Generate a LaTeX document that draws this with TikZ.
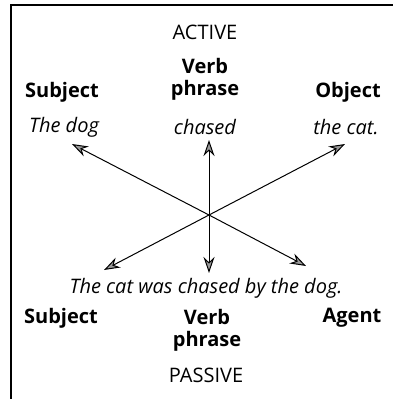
\documentclass[tikz,border=0pt]{standalone}
\usepackage{fontspec}
\setmainfont{Open Sans}
\usepackage{tikz}
\usetikzlibrary{arrows.meta, positioning}

\begin{document}
\begin{tikzpicture}[
    x=1pt, y=-1pt,
    every node/.style={font=\fontsize{20}{23}\selectfont, inner sep=1pt},
    role/.style={font=\fontsize{20}{23}\selectfont\bfseries, align=center},
    sentence/.style={font=\fontsize{20}{23}\selectfont\itshape},
    voice/.style={font=\fontsize{20}{23}\selectfont},
    arrow/.style={-{Stealth[length=16pt, width=11pt, fill=black!40]}, line width=1pt}
]
\useasboundingbox (0,0) rectangle (393,399);

% frame
\draw[line width=1.5pt] (393,5) -- (11,5) -- (11,399);

% active sentence
\node[voice] (active) at (205,32) {ACTIVE};
\node[role] (asubj) at (62,92) {Subject};
\node[role] (averb) at (205,79) {Verb\\[-1pt]phrase};
\node[role] (aobj) at (348,92) {Object};
\node[sentence] (adog) at (64,127) {The dog};
\node[sentence] (achased) at (205,127) {chased};
\node[sentence] (acat) at (346,127) {the cat.};

% passive sentence
\node[sentence] (pline) at (206,288) {The cat was chased by the dog.};
\node[role] (psubj) at (61,318) {Subject};
\node[role] (pverb) at (207,330) {Verb\\[-1pt]phrase};
\node[role] (pagent) at (352,318) {Agent};
\node[voice] (passive) at (206,375) {PASSIVE};

% arrows from the crossing point
\coordinate (hub) at (209,215);
\coordinate (tdog) at (72,144);
\coordinate (tchased) at (209,140);
\coordinate (tcat) at (345,144);
\coordinate (tsubj) at (104,270);
\coordinate (tverb) at (209,273);
\coordinate (tagent) at (306,266);

\foreach \j in {tdog, tchased, tcat, tsubj, tverb, tagent}
    \draw[arrow] (hub) -- (\j);

\end{tikzpicture}
\end{document}
